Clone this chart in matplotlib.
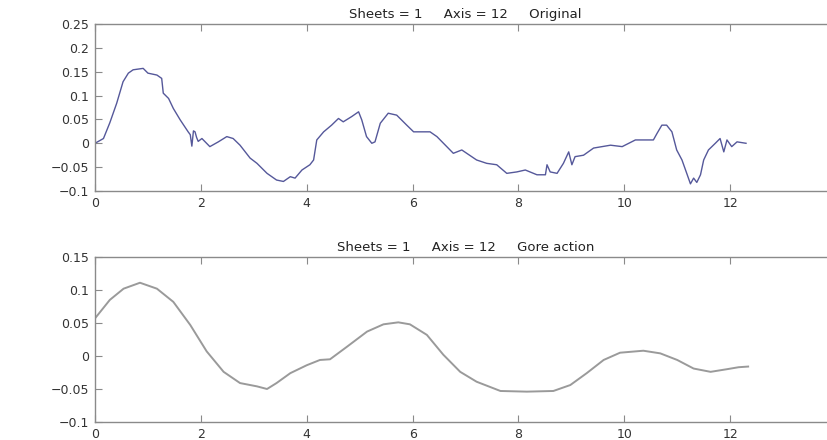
import matplotlib
matplotlib.use("Agg")
import matplotlib.pyplot as plt

# Top panel: "Original" signal
orig_x = [0.0, 0.16, 0.28, 0.41, 0.53, 0.63, 0.72, 0.91, 1.0, 1.17, 1.26, 1.29, 1.39, 1.48,
          1.61, 1.76, 1.80, 1.83, 1.86, 1.89, 1.92, 1.95, 2.02, 2.17, 2.33, 2.49, 2.61, 2.74,
          2.93, 3.06, 3.25, 3.43, 3.56, 3.69, 3.78, 3.91, 4.06, 4.13, 4.19, 4.32, 4.47, 4.60,
          4.69, 4.85, 4.98, 5.04, 5.13, 5.23, 5.29, 5.39, 5.54, 5.70, 5.89, 6.02, 6.33, 6.46,
          6.77, 6.93, 7.21, 7.40, 7.59, 7.78, 7.97, 8.13, 8.35, 8.51, 8.54, 8.60, 8.73, 8.85,
          8.95, 9.01, 9.07, 9.23, 9.42, 9.58, 9.74, 9.96, 10.21, 10.55, 10.62, 10.71, 10.80,
          10.90, 10.99, 11.09, 11.18, 11.25, 11.31, 11.37, 11.44, 11.50, 11.59, 11.72, 11.81,
          11.88, 11.94, 12.03, 12.13, 12.30]
orig_y = [0.0, 0.010, 0.043, 0.084, 0.129, 0.147, 0.154, 0.157, 0.147, 0.143, 0.136, 0.105,
          0.094, 0.073, 0.049, 0.024, 0.018, -0.006, 0.026, 0.024, 0.012, 0.004, 0.010, -0.007,
          0.003, 0.014, 0.010, -0.004, -0.031, -0.042, -0.063, -0.077, -0.080, -0.070, -0.073,
          -0.056, -0.045, -0.035, 0.007, 0.024, 0.038, 0.052, 0.045, 0.056, 0.066, 0.049, 0.014,
          0.0, 0.003, 0.042, 0.063, 0.059, 0.038, 0.024, 0.024, 0.014, -0.021, -0.014, -0.035,
          -0.042, -0.045, -0.063, -0.060, -0.056, -0.066, -0.066, -0.045, -0.060, -0.063,
          -0.042, -0.018, -0.045, -0.028, -0.025, -0.010, -0.007, -0.004, -0.007, 0.007, 0.007,
          0.021, 0.038, 0.038, 0.024, -0.014, -0.035, -0.063, -0.085, -0.073, -0.082, -0.066,
          -0.035, -0.014, 0.0, 0.010, -0.018, 0.007, -0.007, 0.003, 0.0]

# Bottom panel: "Gore action" signal
core_x = [0.0, 0.28, 0.54, 0.85, 1.17, 1.48, 1.80, 2.11, 2.43, 2.74, 3.06, 3.25, 3.43, 3.69,
          4.0, 4.25, 4.44, 4.76, 5.14, 5.45, 5.73, 5.95, 6.27, 6.58, 6.90, 7.21, 7.66, 8.16,
          8.66, 8.98, 9.29, 9.61, 9.92, 10.36, 10.68, 11.0, 11.31, 11.63, 11.94, 12.16, 12.34]
core_y = [0.057, 0.085, 0.102, 0.111, 0.102, 0.082, 0.047, 0.007, -0.024, -0.041, -0.046,
          -0.050, -0.041, -0.026, -0.014, -0.006, -0.005, 0.014, 0.037, 0.048, 0.051, 0.048,
          0.032, 0.002, -0.024, -0.039, -0.053, -0.054, -0.053, -0.044, -0.026, -0.006, 0.005,
          0.008, 0.004, -0.006, -0.019, -0.024, -0.020, -0.017, -0.016]

x_ticks = [0, 2, 4, 6, 8, 10, 12]
top_yticks = [-0.1, -0.05, 0, 0.05, 0.1, 0.15, 0.2, 0.25]
top_ylabels = ["\u22120.1", "\u22120.05", "0", "0.05", "0.1", "0.15", "0.2", "0.25"]
bot_yticks = [-0.1, -0.05, 0, 0.05, 0.1, 0.15]
bot_ylabels = ["\u22120.1", "\u22120.05", "0", "0.05", "0.1", "0.15"]
top_title = "Sheets = 1     Axis = 12     Original"
bot_title = "Sheets = 1     Axis = 12     Gore action"

plt.rcParams['font.family'] = ['DejaVu Sans']
fig = plt.figure(figsize=(8.28, 4.40), dpi=100)
W, H = 828, 440

def make_ax(top_px, bottom_px):
    left, right = 95, 836
    return fig.add_axes([left / W, 1 - bottom_px / H, (right - left) / W, (bottom_px - top_px) / H])

ax1 = make_ax(24, 191)
ax2 = make_ax(257, 422)

ax1.plot(orig_x, orig_y, color='#55589a', lw=1.0)
ax2.plot(core_x, core_y, color='#9a9a9a', lw=1.4)

for ax, yt, yl, title, ylim in [(ax1, top_yticks, top_ylabels, top_title, (-0.1, 0.25)),
                                 (ax2, bot_yticks, bot_ylabels, bot_title, (-0.1, 0.15))]:
    ax.set_xlim(0, 14)
    ax.set_ylim(*ylim)
    ax.set_xticks(x_ticks)
    ax.set_xticklabels([str(v) for v in x_ticks])
    ax.set_yticks(yt)
    ax.set_yticklabels(yl)
    ax.tick_params(direction='in', length=5, width=0.8, colors='#8a8a8a',
                   labelcolor='#333333', labelsize=9, top=True, right=True, pad=4)
    for s in ax.spines.values():
        s.set_color('#8a8a8a')
        s.set_linewidth(1.0)
    ax.set_title(title, fontsize=9.5, color='#222222', pad=4)

fig.savefig('out.png', dpi=100, facecolor='white')
